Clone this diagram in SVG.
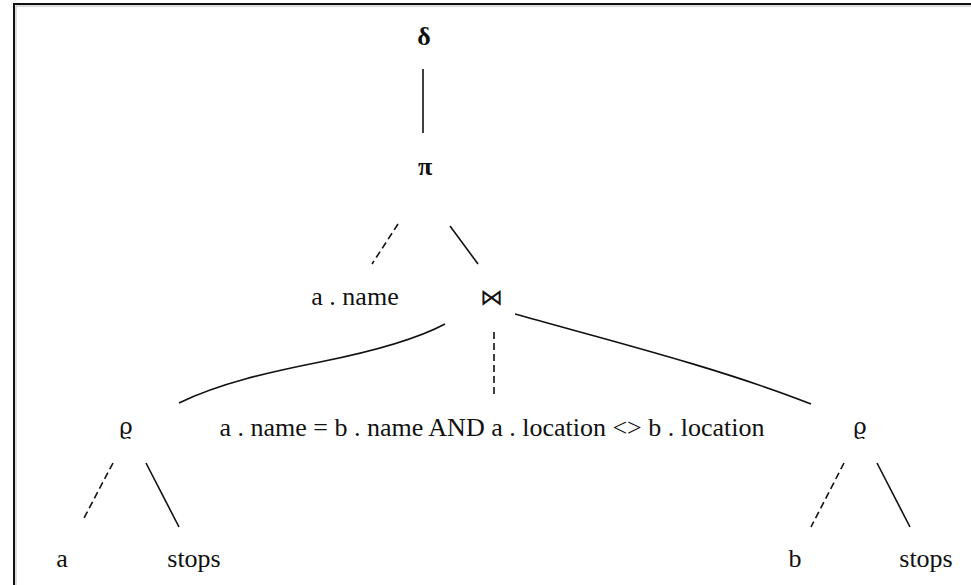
<svg xmlns="http://www.w3.org/2000/svg" width="971" height="585" viewBox="0 0 971 585">
  <style>
    text { font-family: 'Liberation Serif', 'Times New Roman', Times, serif; font-size: 26px; fill: #111; text-anchor: middle; }
    text.sym { font-family: 'DejaVu Serif', 'Liberation Serif', serif; font-size: 23px; }
    .edge { fill: none; stroke: #111; stroke-width: 1.6; }
    .dash { fill: none; stroke: #111; stroke-width: 1.6; stroke-dasharray: 7 4; }
  </style>
  <rect width="971" height="585" fill="#fff"/>
  <!-- frame -->
  <path d="M14,585 V4 H971" fill="none" stroke="#111" stroke-width="2"/>
  <path d="M16,585 V6 H971" fill="none" stroke="#bbb" stroke-width="1"/>

  <g id="connectors">
    <line class="edge" x1="423" y1="69" x2="423" y2="133"/>
    <line class="dash" x1="398" y1="224" x2="372" y2="264"/>
    <line class="edge" x1="450" y1="226" x2="478" y2="264"/>
    <path class="edge" d="M179,403 C220,383 270,372 320,362 C370,352 415,340 445,324"/>
    <line class="dash" x1="494" y1="332" x2="494" y2="397"/>
    <path class="edge" d="M515,314 C600,338 720,368 811,404"/>
    <line class="dash" x1="113" y1="463" x2="83" y2="520"/>
    <line class="edge" x1="146" y1="463" x2="179" y2="527"/>
    <line class="dash" x1="844" y1="463" x2="811" y2="527"/>
    <line class="edge" x1="877" y1="463" x2="910" y2="527"/>
  </g>

  <g id="distinct"><text x="424" y="45" font-size="27" font-weight="bold">δ</text></g>
  <g id="project"><text x="425" y="175" font-size="27" font-weight="bold">π</text></g>
  <g id="attr"><text x="355" y="305">a . name</text></g>
  <g id="join"><text class="sym" x="491" y="305">⋈</text></g>
  <g id="cond"><text x="492" y="436">a . name = b . name AND a . location &lt;&gt; b . location</text></g>
  <g id="rename-a"><text class="sym" x="126" y="434">ϱ</text></g>
  <g id="alias-a"><text x="62" y="567">a</text></g>
  <g id="stops-a"><text x="194" y="567">stops</text></g>
  <g id="rename-b"><text class="sym" x="860" y="434">ϱ</text></g>
  <g id="alias-b"><text x="795" y="567">b</text></g>
  <g id="stops-b"><text x="926" y="567">stops</text></g>
</svg>
